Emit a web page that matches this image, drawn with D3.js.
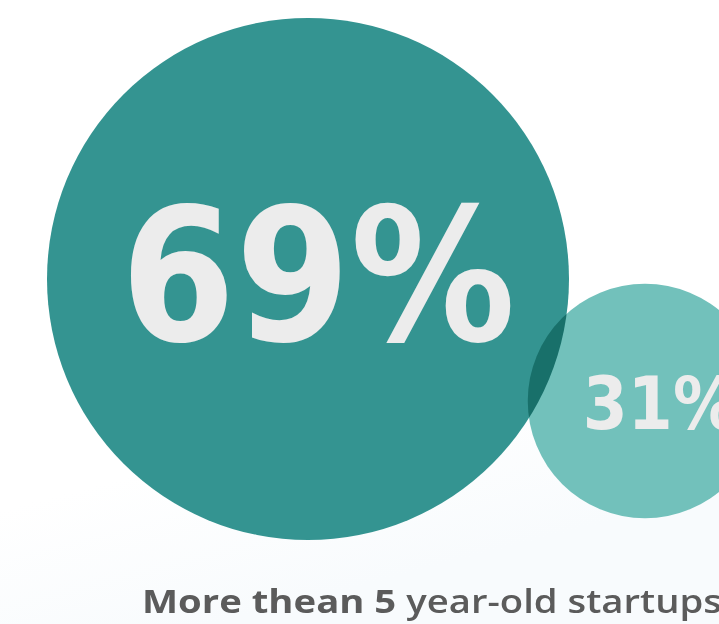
<html>
<head>
<script src="https://d3js.org/d3.v7.min.js"></script>
<style>
  body { margin: 0; background: #ffffff; overflow: hidden; }
  svg { display: block; }
</style>
</head>
<body>
<svg width="719" height="624"></svg>
<script>
// data
const labels = ["More than 5 years", "Less than 5 years"]
const values = [69, 31]
const colors = ["#349491", "#72c1bb"]
const caption = ["More thean 5", " year-old startups"]

const width = 719, height = 624
const svg = d3.select("svg")

// faint background wash at the bottom
const defs = svg.append("defs")
const grad = defs.append("linearGradient").attr("id", "bg")
  .attr("x1", 0).attr("y1", 0).attr("x2", 0.3).attr("y2", 1)
grad.append("stop").attr("offset", "75%").attr("stop-color", "#ffffff")
grad.append("stop").attr("offset", "100%").attr("stop-color", "#f8fbfd")
svg.append("rect").attr("width", width).attr("height", height).attr("fill", "url(#bg)")

// radius is linear in the value
const r = d3.scaleLinear().domain([0, d3.max(values)]).range([0, 261])
const x = d3.scalePoint().domain(labels).range([308, 645])
const y = d3.scalePoint().domain(labels).range([279, 401])

const g = svg.append("g").style("isolation", "isolate")

g.selectAll("circle").data(values).enter().append("circle")
  .attr("cx", (d, i) => x(labels[i]))
  .attr("cy", (d, i) => y(labels[i]))
  .attr("r", d => r(d))
  .attr("fill", (d, i) => colors[i])
  .style("mix-blend-mode", "multiply")

// percentage labels, sized by the radius
const fs = (d, i) => r(d) * (i == 0 ? 0.71 : 0.62)
g.selectAll("text.pct").data(values).enter().append("text")
  .attr("class", "pct")
  .attr("x", (d, i) => x(labels[i]) - r(d) * (i == 0 ? 0.717 : 0.53))
  .attr("y", (d, i) => y(labels[i]) + r(d) * (i == 0 ? 0.235 : 0.24))
  .attr("font-family", "'DejaVu Sans', sans-serif")
  .attr("font-weight", 700)
  .attr("font-size", fs)
  .attr("textLength", (d, i) => fs(d, i) * 2.13)
  .attr("lengthAdjust", "spacingAndGlyphs")
  .attr("fill", "#ececec")
  .text(d => d + "%")

const cap = svg.append("text")
  .attr("x", 142)
  .attr("y", 613)
  .attr("font-family", "'Open Sans', sans-serif")
  .attr("font-size", 32)
  .attr("fill", "#5b5b5b")
  .attr("textLength", 580)
  .attr("lengthAdjust", "spacingAndGlyphs")
cap.append("tspan").attr("font-weight", 700).text(caption[0])
cap.append("tspan").attr("font-weight", 600).text(caption[1])
</script>
</body>
</html>
